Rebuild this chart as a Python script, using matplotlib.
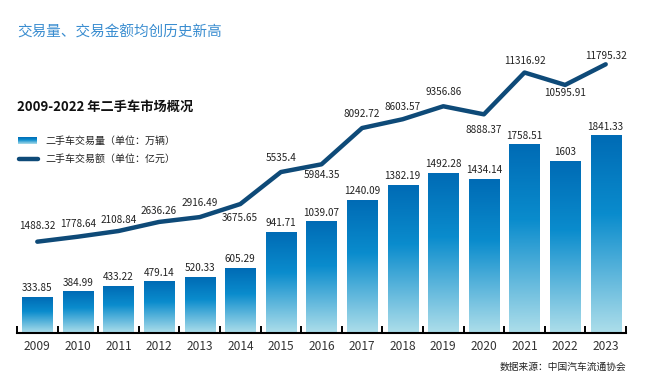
import numpy as np
import matplotlib.pyplot as plt
from matplotlib.colors import LinearSegmentedColormap
from matplotlib.lines import Line2D

plt.rcParams['font.family'] = ['Noto Sans CJK SC', 'DejaVu Sans']

years = ["2009", "2010", "2011", "2012", "2013", "2014", "2015", "2016",
         "2017", "2018", "2019", "2020", "2021", "2022", "2023"]
volume = [333.85, 384.99, 433.22, 479.14, 520.33, 605.29, 941.71, 1039.07,
          1240.09, 1382.19, 1492.28, 1434.14, 1758.51, 1603, 1841.33]
volume_labels = ["333.85", "384.99", "433.22", "479.14", "520.33", "605.29",
                 "941.71", "1039.07", "1240.09", "1382.19", "1492.28",
                 "1434.14", "1758.51", "1603", "1841.33"]
amount = [1488.32, 1778.64, 2108.84, 2636.26, 2916.49, 3675.65, 5535.4,
          5984.35, 8092.72, 8603.57, 9356.86, 8888.37, 11316.92, 10595.91,
          11795.32]
amount_labels = ["1488.32", "1778.64", "2108.84", "2636.26", "2916.49",
                 "3675.65", "5535.4", "5984.35", "8092.72", "8603.57",
                 "9356.86", "8888.37", "11316.92", "10595.91", "11795.32"]
# label offset in points: positive = above the line point
amount_offsets = [11, 9, 8, 8, 10, -10, 10, -8, 10, 9, 10, -11, 8, -6, 6]

W, H = 651, 384
fig = plt.figure(figsize=(W / 100, H / 100), dpi=100)

ax = fig.add_axes([17 / W, (H - 333) / H, (626 - 17) / W, (333 - 40) / H])
ax2 = ax.twinx()

cmap = LinearSegmentedColormap.from_list(
    "bar", [(0.0, "#addeea"), (0.6, "#0a8ccd"), (1.0, "#006bb5")])
grad = np.linspace(0, 1, 256).reshape(-1, 1)

bw = 0.74
x = np.arange(len(years))
for xi, v, lab in zip(x, volume, volume_labels):
    ax.imshow(grad, cmap=cmap, origin="lower", aspect="auto",
              extent=[xi - bw / 2, xi + bw / 2, 0, v], zorder=2)
    ax.annotate(lab, (xi, v), xytext=(0, 3), textcoords="offset points",
                ha="center", va="bottom", fontsize=7.2, color="#222222")

ax.set_xlim(-0.5, len(years) - 0.5)
ax.set_ylim(0, 2738)
ax2.set_ylim(-3817, 13207)

ax.set_xticks(np.arange(-0.5, len(years), 1.0))
ax.set_xticklabels([])
ax.tick_params(axis="x", direction="in", length=5, width=1.4, color="black")
ax.set_xticks(x, minor=True)
ax.set_xticklabels(years, minor=True, fontsize=8.6, color="#333333")
ax.tick_params(axis="x", which="minor", length=0, pad=5)
ax.set_yticks([])
ax2.set_yticks([])
for a in (ax, ax2):
    for s in ("left", "right", "top"):
        a.spines[s].set_visible(False)
ax.spines["bottom"].set_linewidth(1.5)
ax2.spines["bottom"].set_visible(False)
ax.patch.set_visible(False)

ax2.plot(x, amount, color="#0e4a78", lw=3.2, solid_capstyle="round",
         solid_joinstyle="round", zorder=3)
for xi, v, lab, off in zip(x, amount, amount_labels, amount_offsets):
    ax2.annotate(lab, (xi, v), xytext=(0, off), textcoords="offset points",
                 ha="center", va="center", fontsize=7.2, color="#222222")

fig.text(17 / W, 1 - 33 / H, "交易量、交易金额均创历史新高", fontsize=10.5,
         color="#3a8dd0", va="center", ha="left")
fig.text(17 / W, 1 - 107 / H, "2009-2022 年二手车市场概况", fontsize=9.5,
         fontweight="bold", color="#111111", va="center", ha="left")

# legend
leg_img = fig.add_axes([18 / W, 1 - 144 / H, 19 / W, 7 / H])
leg_img.imshow(grad, cmap=cmap, origin="lower", aspect="auto")
leg_img.axis("off")
fig.text(45 / W, 1 - 141 / H, "二手车交易量（单位：万辆）", fontsize=7.2,
         color="#222222", va="center", ha="left")
fig.add_artist(Line2D([19 / W, 38 / W], [1 - 159 / H, 1 - 159 / H],
                      color="#0e4a78", lw=3.2, solid_capstyle="round"))
fig.text(45 / W, 1 - 159 / H, "二手车交易额（单位：亿元）", fontsize=7.2,
         color="#222222", va="center", ha="left")

fig.text(626 / W, 1 - 367 / H, "数据来源：中国汽车流通协会", fontsize=7,
         color="#222222", va="center", ha="right")

fig.savefig("out.png", dpi=100)
